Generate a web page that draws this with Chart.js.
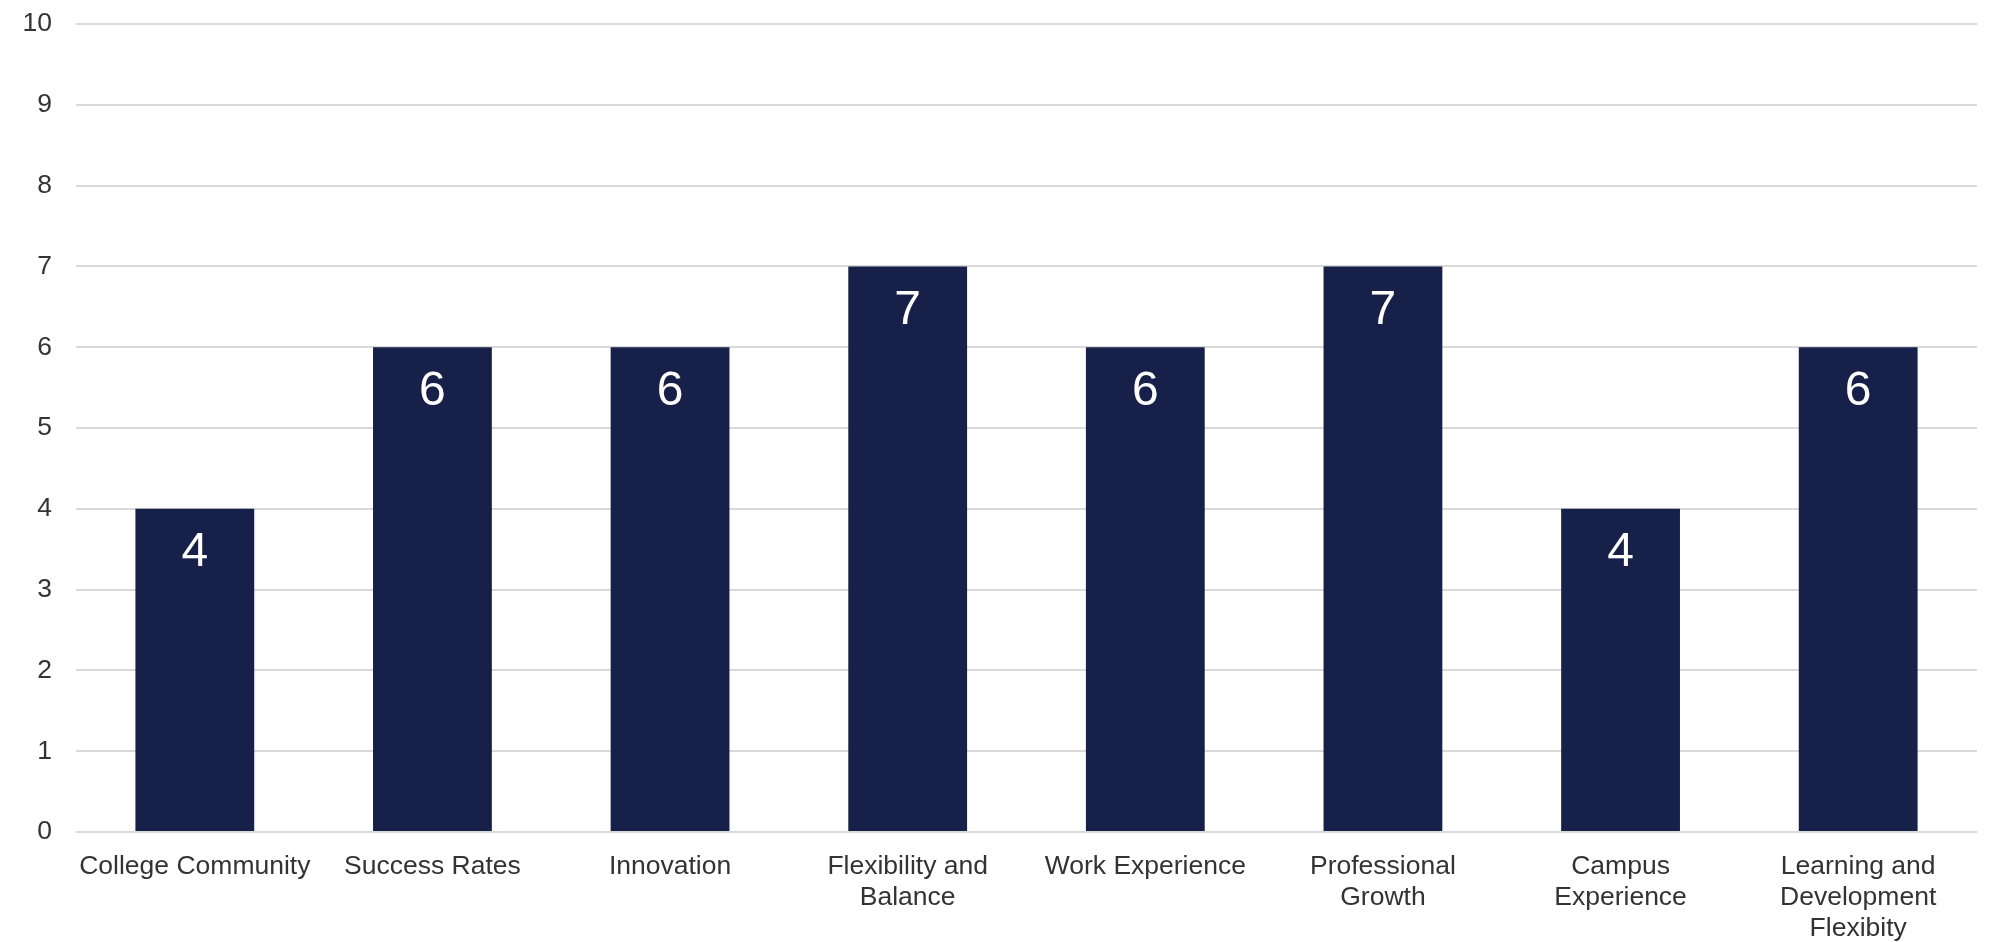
<!DOCTYPE html>
<html>
<head>
<meta charset="utf-8">
<script src="https://cdn.jsdelivr.net/npm/chart.js@4/dist/chart.umd.min.js"></script>
<style>
html,body{margin:0;padding:0;background:#fff;}
#wrap{width:1995px;height:942px;position:relative;}
</style>
</head>
<body>
<div id="wrap"><canvas id="c" width="1995" height="942"></canvas></div>
<script>
const categories = [
  "College Community",
  ["Success Rates"],
  "Innovation",
  ["Flexibility and", "Balance"],
  "Work Experience",
  ["Professional", "Growth"],
  ["Campus", "Experience"],
  ["Learning and", "Development", "Flexibity"]
];
const values = [4, 6, 6, 7, 6, 7, 4, 6];
const yMin = 0, yMax = 10, yStep = 1;

const FONT = "'Liberation Sans', Arial, sans-serif";

const labelPlugin = {
  id: 'inBarLabels',
  afterDatasetsDraw(chart) {
    const ctx = chart.ctx;
    const meta = chart.getDatasetMeta(0);
    ctx.save();
    ctx.fillStyle = '#ffffff';
    ctx.font = '48px ' + FONT;
    ctx.textAlign = 'center';
    ctx.textBaseline = 'alphabetic';
    meta.data.forEach((bar, i) => {
      ctx.fillText(String(values[i]), bar.x, bar.y + 57.5);
    });
    ctx.restore();
  }
};

new Chart(document.getElementById('c'), {
  type: 'bar',
  data: {
    labels: categories,
    datasets: [{
      data: values,
      backgroundColor: '#172048',
      borderWidth: 0,
      barPercentage: 0.5,
      categoryPercentage: 1.0
    }]
  },
  options: {
    responsive: false,
    animation: false,
    devicePixelRatio: 1,
    layout: { padding: { top: 24, right: 18, left: 0, bottom: 0 } },
    plugins: { legend: { display: false }, tooltip: { enabled: false } },
    scales: {
      x: {
        grid: { display: false, drawTicks: false },
        border: { display: false },
        ticks: {
          color: '#333333',
          font: { family: FONT, size: 26.5, lineHeight: 1.17 },
          padding: 19,
          maxRotation: 0,
          autoSkip: false
        },
        afterFit(scale) { scale.height = 110; scale.paddingLeft = 0; scale.paddingRight = 0; }
      },
      y: {
        min: yMin, max: yMax,
        grid: { color: '#d9d9d9', lineWidth: 2, drawTicks: false },
        border: { display: false },
        ticks: {
          stepSize: yStep,
          color: '#333333',
          font: { family: FONT, size: 26.5 },
          padding: 24
        },
        afterFit(scale) { scale.width = 76; scale.paddingTop = 0; scale.paddingBottom = 0; }
      }
    }
  },
  plugins: [labelPlugin]
});
</script>
</body>
</html>
